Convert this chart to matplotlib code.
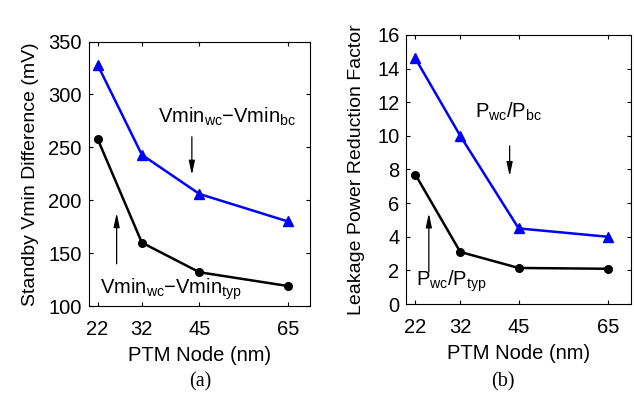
import numpy as np
import matplotlib.pyplot as plt

BLUE  = "#0000FF"
BLACK = "#000000"

# ── data ─────────────────────────────────────────────────────────────────────
nodes      = [22, 32, 45, 65]
vmin_bc    = [328, 243, 206, 180]
vmin_typ   = [258, 160, 132, 119]
pwr_bc     = [14.6, 10.0, 4.5, 4.0]
pwr_typ    = [7.7, 3.1, 2.15, 2.1]

plt.rcParams["font.family"] = ["Liberation Sans", "DejaVu Sans"]
plt.rcParams["mathtext.fontset"] = "custom"
plt.rcParams["mathtext.rm"] = "Liberation Sans"
plt.rcParams["mathtext.it"] = "Liberation Sans"

fig = plt.figure(figsize=(6.34, 3.96), dpi=100)
ax1 = fig.add_axes([0.140, 0.227, 0.349, 0.668])
ax2 = fig.add_axes([0.641, 0.232, 0.354, 0.680])

FS = 14.5

def style(ax):
    ax.set_xlim(20, 70)
    ax.set_xticks(nodes)
    ax.tick_params(direction="in", length=3, width=0.8, top=True, right=True,
                   labelsize=FS)
    ax.tick_params(axis="x", pad=10)
    ax.tick_params(axis="y", pad=5)
    ax.set_xlabel("PTM Node (nm)", fontsize=FS, labelpad=5)
    for s in ax.spines.values():
        s.set_linewidth(0.8)

def arrow(ax, x, y0, y1):
    ax.annotate("", xy=(x, y1), xytext=(x, y0),
                arrowprops=dict(arrowstyle="-|>,head_length=0.7,head_width=0.15",
                                color="k", lw=0.9, mutation_scale=12,
                                shrinkA=0, shrinkB=0))

# ── (a) Vmin difference ──────────────────────────────────────────────────────
ax1.plot(nodes, vmin_bc, color=BLUE, lw=1.8, marker="^", ms=7)
ax1.plot(nodes, vmin_typ, color=BLACK, lw=1.8, marker="o", ms=5.5)
ax1.set_ylim(100, 350)
ax1.set_yticks(np.arange(100, 351, 50))
ax1.set_ylabel("Standby Vmin Difference (mV)", fontsize=14, labelpad=7)
style(ax1)
ax1.text(35.6, 273, r"Vmin$_{\mathrm{wc}}$−Vmin$_{\mathrm{bc}}$", fontsize=FS)
arrow(ax1, 43.3, 260, 224)
ax1.text(22.5, 111.5, r"Vmin$_{\mathrm{wc}}$−Vmin$_{\mathrm{typ}}$", fontsize=FS)
arrow(ax1, 26.3, 140, 188)
fig.text(0.316, 0.025, "(a)", family="Liberation Serif", fontsize=14.5, ha="center")

# ── (b) leakage power ────────────────────────────────────────────────────────
ax2.plot(nodes, pwr_bc, color=BLUE, lw=1.8, marker="^", ms=7)
ax2.plot(nodes, pwr_typ, color=BLACK, lw=1.8, marker="o", ms=5.5)
ax2.set_ylim(0, 16)
ax2.set_yticks(np.arange(0, 17, 2))
ax2.set_ylabel("Leakage Power Reduction Factor", fontsize=14, labelpad=9)
style(ax2)
ax2.text(35.2, 11.1, r"P$_{\mathrm{wc}}$/P$_{\mathrm{bc}}$", fontsize=FS)
arrow(ax2, 43, 9.4, 7.6)
ax2.text(22.2, 1.1, r"P$_{\mathrm{wc}}$/P$_{\mathrm{typ}}$", fontsize=FS)
arrow(ax2, 25, 1.9, 5.4)
fig.text(0.793, 0.025, "(b)", family="Liberation Serif", fontsize=14.5, ha="center")

fig.savefig("out.png", dpi=100)
